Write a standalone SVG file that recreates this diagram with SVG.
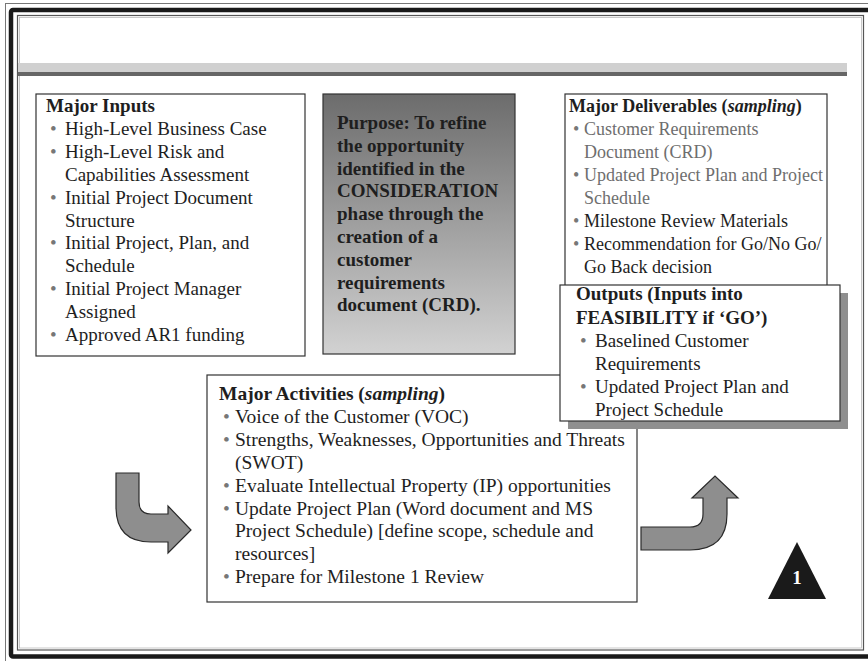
<svg xmlns="http://www.w3.org/2000/svg" width="868" height="661" viewBox="0 0 868 661">
<defs>
<linearGradient id="pg" x1="0" y1="0" x2="0" y2="1">
<stop offset="0" stop-color="#6c6c6c"/>
<stop offset="1" stop-color="#d2d2d2"/>
</linearGradient>
<style>
.t{font-family:"Liberation Serif","Times New Roman",serif;font-size:19px;fill:#1e1e1e}
.d{font-size:18px}
.a{font-size:19.5px}
.b{font-weight:bold}
.g{fill:#6e6e6e}
.bu{fill:#777}
.box{fill:#fff;stroke:#333;stroke-width:1.2}
.arr{fill:#8e8e8e;stroke:#2a2a2a;stroke-width:1.2;stroke-linejoin:miter}
</style>
</defs>
<rect width="868" height="661" fill="#fff"/>
<g id="frame" fill="none">
<rect x="5.5" y="3.5" width="880" height="680" stroke="#777" stroke-width="1"/>
<rect x="11" y="10" width="880" height="646.5" rx="2" stroke="#1a1a1a" stroke-width="4.5"/>
<rect x="17.5" y="15.5" width="846" height="634.5" stroke="#555" stroke-width="1.2"/>
<rect x="19.5" y="17.5" width="842" height="630.5" stroke="#bbb" stroke-width="0.8"/>
</g>
<g id="band">
<rect x="18" y="63" width="829" height="9" fill="#d0d0d0"/>
<rect x="18" y="72" width="829" height="4" fill="#666"/>
</g>
<g id="connectors">
<path class="arr" d="M116,473 L139,473 L139,502 Q139,514 151,514 L168,514 L168,506 L191,530 L168,553 L168,542 L151,542 Q116,542 116,507 Z"/>
<path class="arr" d="M641,527 L690,527 Q703,527 703,514 L703,498 L692,498 L715,476 L738,498 L727,498 L727,514 Q727,550 690,550 L641,550 Z"/>
</g>
<g id="inputs">
<rect class="box" x="36" y="94" width="269" height="262"/>
<text class="t b" x="46" y="112">Major Inputs</text>
<g class="t bu"><text x="50" y="135">•</text><text x="50" y="158">•</text><text x="50" y="204">•</text><text x="50" y="249">•</text><text x="50" y="295">•</text><text x="50" y="341">•</text></g>
<text class="t" x="65" y="135">High-Level Business Case</text>
<text class="t" x="65" y="158">High-Level Risk and</text>
<text class="t" x="65" y="181">Capabilities Assessment</text>
<text class="t" x="65" y="204">Initial Project Document</text>
<text class="t" x="65" y="227">Structure</text>
<text class="t" x="65" y="249">Initial Project, Plan, and</text>
<text class="t" x="65" y="272">Schedule</text>
<text class="t" x="65" y="295">Initial Project Manager</text>
<text class="t" x="65" y="318">Assigned</text>
<text class="t" x="65" y="341">Approved AR1 funding</text>
</g>
<g id="purpose">
<rect x="323" y="94" width="192" height="260" fill="url(#pg)" stroke="#333" stroke-width="1.2"/>
<text class="t b" x="337" y="129">Purpose: To refine</text>
<text class="t b" x="337" y="152">the opportunity</text>
<text class="t b" x="337" y="175">identified in the</text>
<text class="t b" x="337" y="197">CONSIDERATION</text>
<text class="t b" x="337" y="220">phase through the</text>
<text class="t b" x="337" y="243">creation of a</text>
<text class="t b" x="337" y="266">customer</text>
<text class="t b" x="337" y="289">requirements</text>
<text class="t b" x="337" y="311">document (CRD).</text>
</g>
<g id="deliverables">
<rect class="box" x="565" y="94" width="262" height="260"/>
<text class="t d b" x="569" y="112">Major Deliverables (<tspan font-style="italic">sampling</tspan>)</text>
<g class="t d bu"><text x="573" y="135">•</text><text x="573" y="181">•</text><text x="573" y="227">•</text><text x="573" y="250">•</text></g>
<text class="t d g" x="584" y="135">Customer Requirements</text>
<text class="t d g" x="584" y="158">Document (CRD)</text>
<text class="t d g" x="584" y="181">Updated Project Plan and Project</text>
<text class="t d g" x="584" y="204">Schedule</text>
<text class="t d" x="584" y="227">Milestone Review Materials</text>
<text class="t d" x="584" y="250">Recommendation for Go/No Go/</text>
<text class="t d" x="584" y="273">Go Back decision</text>
</g>
<g id="activities">
<rect class="box" x="207" y="375" width="430" height="227"/>
<text class="t a b" x="219" y="400">Major Activities (<tspan font-style="italic">sampling</tspan>)</text>
<g class="t a bu"><text x="223" y="423">•</text><text x="223" y="446">•</text><text x="223" y="492">•</text><text x="223" y="515">•</text><text x="223" y="583">•</text></g>
<text class="t a" x="235" y="423">Voice of the Customer (VOC)</text>
<text class="t a" x="235" y="446">Strengths, Weaknesses, Opportunities and Threats</text>
<text class="t a" x="235" y="469">(SWOT)</text>
<text class="t a" x="235" y="492">Evaluate Intellectual Property (IP) opportunities</text>
<text class="t a" x="235" y="515">Update Project Plan (Word document and MS</text>
<text class="t a" x="235" y="537">Project Schedule) [define scope, schedule and</text>
<text class="t a" x="235" y="560">resources]</text>
<text class="t a" x="235" y="583">Prepare for Milestone 1 Review</text>
</g>
<g id="outputs">
<rect x="568" y="293" width="280" height="136" fill="#8f8f8f"/>
<rect class="box" x="560" y="285" width="280" height="136"/>
<text class="t b" x="576" y="300">Outputs (Inputs into</text>
<text class="t b" x="576" y="324">FEASIBILITY if ‘GO’)</text>
<g class="t bu"><text x="580" y="347">•</text><text x="580" y="393">•</text></g>
<text class="t" x="595" y="347">Baselined Customer</text>
<text class="t" x="595" y="370">Requirements</text>
<text class="t" x="595" y="393">Updated Project Plan and</text>
<text class="t" x="595" y="416">Project Schedule</text>
</g>
<g id="milestone">
<polygon points="797,542 768,599 826,599" fill="#1a1a1a"/>
<text x="797" y="584" text-anchor="middle" style="font-family:'Liberation Serif','Times New Roman',serif;font-size:19px;font-weight:bold;fill:#fff">1</text>
</g>
</svg>
